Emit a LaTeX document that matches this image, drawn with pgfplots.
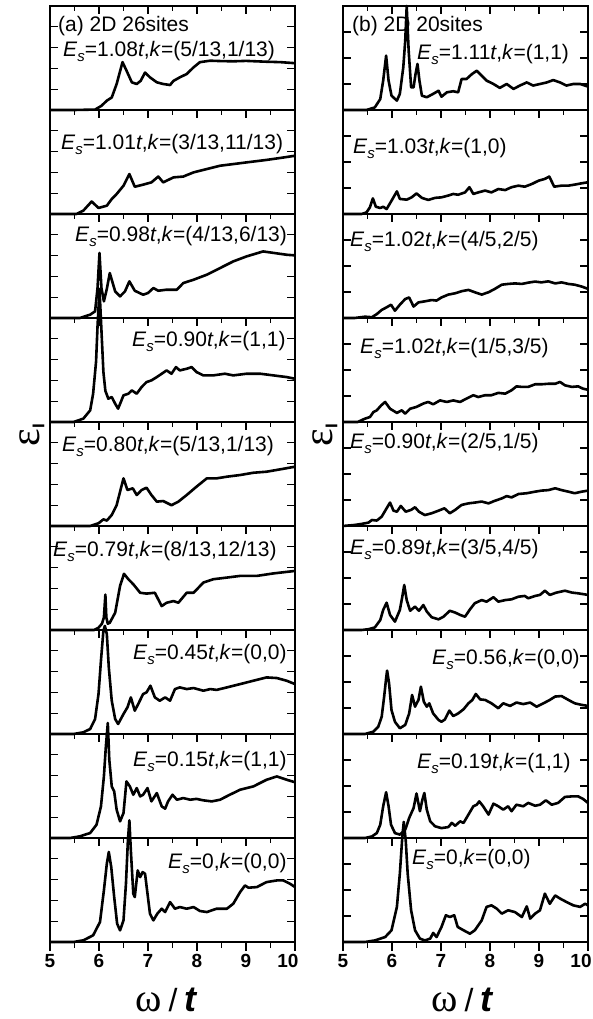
\documentclass[border=0pt]{standalone}
\usepackage{pgfplots}
\pgfplotsset{compat=1.18}
\usepackage{fontspec}
\setmainfont{Liberation Sans}
\newfontfamily\seriffont{Liberation Serif}
\newcommand\Es{\textit{E}\raisebox{-5pt}{\fontsize{15}{15}\selectfont\textit{s}}}
\pgfplotsset{
  panel/.style={scale only axis, width=245pt, height=104pt, xmin=5, xmax=10,
    xtick={5,6,...,10}, minor xtick={5.5,6.5,7.5,8.5,9.5}, xticklabels={},
    xtick pos=right, ytick pos=both, yticklabels={}, tick align=inside,
    major tick length=8pt, minor tick length=5pt,
    axis line style={line width=1.3pt}, tick style={black, line width=1.2pt},
    clip=false, anchor=south west},
  lpanel/.style={panel, ymin=0, ymax=5, ytick={0,...,5}},
  rpanel/.style={panel, ymin=0, ymax=4, ytick={0,...,4}},
  curve/.style={black, line width=2.6pt, line join=round, mark=none},
  bottomticks/.style={scale only axis, width=245pt, height=104pt, anchor=south west,
    xmin=5, xmax=10, ymin=0, ymax=1, hide y axis, axis x line*=bottom,
    x axis line style={-, line width=1.3pt}, tick style={black, line width=1.2pt},
    xtick={5,6,...,10}, minor xtick={5.5,6.5,7.5,8.5,9.5}, tick align=outside,
    major tick length=9pt, minor tick length=6pt,
    /pgf/number format/assume math mode=true,
    xticklabels={5,6,7,8,9,{\makebox[0pt]{10\hspace{14pt}}}},
    xticklabel style={font=\fontsize{19}{19}\selectfont\bfseries, yshift=0pt}},
}
\tikzset{lab/.style={anchor=base west, inner sep=0pt, font=\fontsize{21}{21}\selectfont}}
\newcommand\xlab{{\fontsize{40}{40}\selectfont\seriffont ω}\hspace{7pt}{\fontsize{32}{32}\selectfont /}\hspace{7pt}{\fontsize{36}{36}\selectfont\bfseries\itshape t}}
\newcommand\ylab{{\fontsize{42}{42}\selectfont\seriffont ε}\raisebox{-5pt}{\fontsize{17}{17}\selectfont\bfseries I}}
\begin{document}
\begin{tikzpicture}
\useasboundingbox (0,0) rectangle (592pt,1019pt);
% ---------------- left column ----------------
\begin{axis}[lpanel, at={(50pt,909pt)}]
\addplot[curve] coordinates {(5,0)(5.5,0)(5.92,0.02)(6.05,0.2)(6.16,0.45)(6.26,0.6)(6.36,1.25)(6.48,2.3)(6.56,1.9)(6.67,1.33)(6.77,1.25)(6.85,1.4)(6.94,1.8)(7.04,1.57)(7.18,1.33)(7.31,1.25)(7.45,1.2)(7.52,1.4)(7.65,1.57)(7.79,1.73)(7.93,2.05)(8.06,2.3)(8.27,2.37)(8.5,2.35)(8.74,2.34)(9.0,2.36)(9.42,2.32)(9.7,2.3)(10,2.25)};
\end{axis}
\begin{axis}[lpanel, at={(50pt,805pt)}]
\addplot[curve] coordinates {(5,0)(5.54,0)(5.68,0.16)(5.85,0.6)(5.99,0.29)(6.16,0.4)(6.26,0.72)(6.36,0.96)(6.5,1.36)(6.62,1.92)(6.73,1.31)(6.9,1.41)(7.07,1.52)(7.21,1.8)(7.31,1.52)(7.52,1.76)(7.72,1.8)(7.93,2.0)(8.2,2.16)(8.47,2.32)(8.74,2.4)(9.01,2.48)(9.42,2.6)(9.69,2.69)(10,2.8)};
\end{axis}
\begin{axis}[lpanel, at={(50pt,701pt)}]
\addplot[curve] coordinates {(5,0)(5.61,0)(5.82,0.16)(5.92,0.32)(5.97,1.44)(6.01,3.13)(6.05,1.44)(6.1,0.8)(6.16,1.4)(6.22,2.16)(6.33,1.28)(6.43,1.04)(6.53,1.28)(6.62,1.76)(6.73,1.31)(6.9,1.12)(7.0,1.2)(7.11,1.44)(7.21,1.31)(7.38,1.36)(7.59,1.36)(7.72,1.68)(7.93,1.84)(8.2,2.08)(8.47,2.4)(8.74,2.72)(9.01,2.96)(9.35,3.2)(9.56,3.13)(9.83,3.04)(10,3.01)};
\end{axis}
\begin{axis}[lpanel, at={(50pt,597pt)}]
\addplot[curve] coordinates {(5,0)(5.48,0)(5.68,0.16)(5.82,0.56)(5.88,1.36)(5.94,2.9)(5.97,4.6)(6.01,6.4)(6.05,4.4)(6.09,2.4)(6.13,1.5)(6.19,1.12)(6.26,1.2)(6.33,0.88)(6.39,0.64)(6.5,1.28)(6.6,1.36)(6.67,1.52)(6.77,1.36)(6.87,1.68)(6.97,1.92)(7.07,2.0)(7.18,2.16)(7.28,2.32)(7.38,2.48)(7.48,2.32)(7.57,2.64)(7.65,2.48)(7.79,2.56)(7.89,2.64)(7.99,2.4)(8.13,2.24)(8.33,2.24)(8.57,2.32)(8.74,2.24)(9.01,2.32)(9.29,2.32)(9.56,2.24)(9.83,2.16)(10,2.08)};
\end{axis}
\begin{axis}[lpanel, at={(50pt,493pt)}]
\addplot[curve] coordinates {(5,0)(5.82,0)(5.99,0.13)(6.09,0.32)(6.16,0.26)(6.26,0.53)(6.36,1.0)(6.43,1.65)(6.5,2.29)(6.58,1.73)(6.69,1.81)(6.77,1.49)(6.87,1.73)(6.97,1.84)(7.07,1.49)(7.18,1.17)(7.31,1.2)(7.48,1.0)(7.62,1.17)(7.79,1.49)(7.99,1.89)(8.2,2.29)(8.4,2.29)(8.61,2.37)(8.88,2.45)(9.15,2.56)(9.42,2.61)(9.69,2.72)(10,2.85)};
\end{axis}
\begin{axis}[lpanel, at={(50pt,389pt)}]
\addplot[curve] coordinates {(5,0)(5.9,0)(5.99,0.11)(6.06,0.3)(6.1,0.6)(6.13,1.7)(6.15,0.6)(6.18,0.3)(6.22,0.35)(6.33,0.83)(6.43,2.12)(6.51,2.7)(6.6,2.44)(6.7,2.2)(6.84,1.79)(6.97,1.75)(7.14,1.79)(7.28,1.15)(7.38,1.31)(7.52,1.39)(7.62,1.31)(7.79,1.79)(7.93,1.79)(8.13,2.28)(8.33,2.44)(8.61,2.52)(8.88,2.6)(9.22,2.6)(9.56,2.72)(10,2.84)};
\end{axis}
\begin{axis}[lpanel, at={(50pt,285pt)}]
\addplot[curve] coordinates {(5,0)(5.48,0)(5.68,0.08)(5.82,0.24)(5.92,0.72)(5.99,1.92)(6.04,3.53)(6.09,4.97)(6.12,5.2)(6.16,4.8)(6.2,3.2)(6.26,1.6)(6.33,0.72)(6.39,0.48)(6.5,0.96)(6.58,1.28)(6.65,1.76)(6.73,1.12)(6.8,1.44)(6.9,1.92)(6.97,2.0)(7.05,2.32)(7.14,1.76)(7.24,1.6)(7.35,1.76)(7.45,1.6)(7.55,2.16)(7.65,2.24)(7.79,2.16)(7.93,2.21)(8.13,2.08)(8.27,2.16)(8.4,2.12)(8.61,2.24)(8.88,2.4)(9.15,2.56)(9.42,2.72)(9.63,2.69)(9.83,2.56)(10,2.4)};
\end{axis}
\begin{axis}[lpanel, at={(50pt,181pt)}]
\addplot[curve] coordinates {(5,0)(5.41,0)(5.61,0.08)(5.82,0.24)(5.95,0.64)(6.04,1.52)(6.1,2.96)(6.14,4.4)(6.18,5.53)(6.21,3.77)(6.26,2.48)(6.31,2.24)(6.36,1.36)(6.43,0.8)(6.5,1.2)(6.56,2.72)(6.63,2.48)(6.7,2.08)(6.77,2.4)(6.84,2.0)(6.9,2.08)(6.99,2.4)(7.07,1.76)(7.18,2.16)(7.28,1.52)(7.35,1.41)(7.41,1.76)(7.5,2.08)(7.59,1.84)(7.72,1.92)(7.86,1.84)(7.99,1.88)(8.13,1.81)(8.3,1.76)(8.47,1.84)(8.67,2.08)(8.88,2.32)(9.15,2.48)(9.42,2.8)(9.63,2.96)(9.83,2.8)(10,2.68)};
\end{axis}
\begin{axis}[lpanel, at={(50pt,77pt)}]
\addplot[curve] coordinates {(5,0)(5.48,0)(5.68,0.08)(5.88,0.32)(6.02,0.96)(6.1,2.48)(6.16,3.77)(6.2,4.33)(6.25,3.6)(6.31,2.16)(6.37,0.88)(6.43,0.56)(6.5,1.04)(6.55,2.8)(6.59,4.89)(6.62,5.85)(6.65,4.4)(6.7,2.32)(6.73,2.16)(6.79,3.44)(6.84,3.12)(6.89,3.36)(6.94,3.28)(6.99,2.32)(7.04,1.36)(7.11,1.04)(7.19,1.36)(7.28,1.6)(7.35,1.44)(7.45,1.92)(7.55,1.6)(7.65,1.68)(7.79,1.6)(7.93,1.68)(8.06,1.49)(8.2,1.44)(8.4,1.6)(8.61,1.6)(8.74,1.84)(8.88,2.4)(8.98,2.72)(9.05,2.61)(9.22,2.64)(9.42,2.88)(9.63,2.96)(9.76,2.96)(9.9,2.8)(10,2.64)};
\end{axis}
% ---------------- right column ----------------
\begin{axis}[rpanel, at={(343pt,909pt)}]
\addplot[curve] coordinates {(5,0)(5.48,0)(5.65,0.1)(5.76,0.42)(5.82,1.13)(5.88,2.09)(5.93,1.13)(5.99,0.55)(6.1,0.36)(6.16,0.62)(6.23,1.64)(6.27,2.67)(6.3,4.0)(6.34,2.28)(6.39,0.87)(6.44,0.87)(6.48,1.38)(6.52,1.77)(6.56,1.13)(6.61,0.55)(6.71,0.49)(6.84,0.62)(6.95,0.74)(7.01,0.51)(7.12,0.68)(7.25,0.72)(7.35,0.68)(7.42,1.19)(7.52,1.19)(7.63,1.38)(7.73,1.51)(7.83,1.32)(7.93,1.13)(8.07,1.0)(8.2,0.85)(8.34,1.0)(8.48,0.81)(8.61,0.94)(8.75,1.06)(8.88,0.94)(9.02,1.0)(9.16,1.06)(9.29,1.15)(9.43,1.06)(9.56,0.94)(9.7,1.0)(9.84,1.0)(10,0.9)};
\end{axis}
\begin{axis}[rpanel, at={(343pt,805pt)}]
\addplot[curve] coordinates {(5,0)(5.38,0)(5.48,0.06)(5.55,0.26)(5.61,0.6)(5.67,0.28)(5.76,0.23)(5.82,0.28)(5.89,0.19)(5.99,0.51)(6.1,0.87)(6.16,0.58)(6.3,0.55)(6.4,0.64)(6.5,0.79)(6.61,0.62)(6.74,0.54)(6.88,0.62)(7.01,0.64)(7.15,0.71)(7.25,0.77)(7.35,0.74)(7.49,0.83)(7.58,1.03)(7.66,0.77)(7.76,0.83)(7.9,0.9)(8.03,0.83)(8.17,0.96)(8.31,0.92)(8.44,1.03)(8.58,1.09)(8.71,1.05)(8.85,1.15)(8.99,1.28)(9.12,1.35)(9.21,1.44)(9.31,1.05)(9.46,1.09)(9.6,1.09)(9.73,1.13)(9.87,1.18)(10,1.22)};
\end{axis}
\begin{axis}[rpanel, at={(343pt,701pt)}]
\addplot[curve] coordinates {(5,0)(5.24,0)(5.45,0.05)(5.59,0.03)(5.69,0.15)(5.79,0.31)(5.89,0.41)(5.98,0.51)(6.06,0.28)(6.16,0.51)(6.27,0.73)(6.35,0.79)(6.44,0.44)(6.54,0.6)(6.67,0.64)(6.81,0.69)(6.91,0.67)(7.01,0.79)(7.15,0.9)(7.29,0.95)(7.42,1.03)(7.56,1.08)(7.69,0.99)(7.83,0.9)(7.97,0.99)(8.1,1.12)(8.24,1.28)(8.37,1.31)(8.51,1.33)(8.65,1.31)(8.78,1.36)(8.92,1.4)(9.05,1.37)(9.19,1.41)(9.33,1.33)(9.46,1.37)(9.6,1.31)(9.73,1.28)(9.87,1.21)(10,1.12)};
\end{axis}
\begin{axis}[rpanel, at={(343pt,597pt)}]
\addplot[curve] coordinates {(5,0)(5.3,0)(5.45,0.13)(5.55,0.19)(5.62,0.38)(5.69,0.45)(5.78,0.64)(5.86,0.77)(5.96,0.51)(6.1,0.35)(6.2,0.45)(6.27,0.32)(6.37,0.51)(6.5,0.58)(6.64,0.71)(6.74,0.77)(6.84,0.68)(6.98,0.83)(7.12,0.77)(7.25,0.83)(7.39,0.77)(7.52,0.9)(7.66,1.03)(7.76,0.96)(7.9,1.03)(8.03,1.03)(8.17,1.12)(8.31,1.09)(8.44,1.22)(8.54,1.37)(8.65,1.35)(8.78,1.35)(8.92,1.45)(9.05,1.45)(9.19,1.47)(9.33,1.47)(9.43,1.54)(9.53,1.41)(9.67,1.35)(9.8,1.37)(9.9,1.28)(10,1.24)};
\end{axis}
\begin{axis}[rpanel, at={(343pt,493pt)}]
\addplot[curve] coordinates {(5,0)(5.24,0.04)(5.38,0.08)(5.52,0.13)(5.59,0.23)(5.69,0.21)(5.79,0.36)(5.89,0.68)(5.96,0.9)(6.03,0.59)(6.1,0.55)(6.18,0.77)(6.28,0.55)(6.39,0.62)(6.47,0.72)(6.55,0.55)(6.67,0.42)(6.81,0.49)(6.95,0.59)(7.07,0.68)(7.18,0.49)(7.29,0.62)(7.42,0.81)(7.56,0.87)(7.69,0.9)(7.83,0.94)(7.97,0.87)(8.1,0.97)(8.24,1.06)(8.34,1.15)(8.44,1.1)(8.58,1.23)(8.75,1.26)(8.92,1.32)(9.05,1.36)(9.19,1.38)(9.33,1.45)(9.46,1.38)(9.6,1.32)(9.73,1.26)(9.87,1.32)(10,1.36)};
\end{axis}
\begin{axis}[rpanel, at={(343pt,389pt)}]
\addplot[curve] coordinates {(5,0)(5.38,0)(5.52,0.03)(5.65,0.1)(5.76,0.38)(5.82,0.77)(5.89,1.05)(5.96,0.58)(6.06,0.32)(6.16,0.77)(6.21,1.28)(6.25,1.73)(6.3,1.15)(6.37,0.74)(6.47,0.9)(6.55,0.74)(6.64,0.96)(6.71,0.71)(6.81,0.49)(6.95,0.41)(7.05,0.51)(7.18,0.74)(7.29,0.67)(7.39,0.58)(7.49,0.51)(7.59,0.79)(7.69,1.03)(7.83,1.15)(7.93,1.09)(8.07,1.26)(8.17,1.09)(8.31,1.15)(8.44,1.18)(8.58,1.28)(8.71,1.31)(8.78,1.22)(8.92,1.31)(9.02,1.35)(9.12,1.51)(9.22,1.35)(9.36,1.44)(9.53,1.51)(9.67,1.44)(9.8,1.41)(10,1.35)};
\end{axis}
\begin{axis}[rpanel, at={(343pt,285pt)}]
\addplot[curve] coordinates {(5,0)(5.45,0)(5.62,0.09)(5.72,0.28)(5.79,0.67)(5.84,1.44)(5.88,2.14)(5.9,2.44)(5.94,1.95)(5.99,0.92)(6.06,0.47)(6.16,0.22)(6.27,0.35)(6.35,0.79)(6.41,1.5)(6.47,1.05)(6.54,1.31)(6.59,1.82)(6.65,1.24)(6.71,1.05)(6.76,1.18)(6.84,0.79)(6.95,0.54)(7.01,0.47)(7.08,0.56)(7.17,0.9)(7.25,0.69)(7.35,0.79)(7.46,0.95)(7.56,1.18)(7.64,1.31)(7.71,1.54)(7.8,1.33)(7.9,1.31)(8.03,1.18)(8.17,0.99)(8.27,1.18)(8.41,1.08)(8.54,1.21)(8.68,1.15)(8.82,1.21)(8.95,1.05)(9.09,1.18)(9.22,1.31)(9.33,1.44)(9.46,1.46)(9.6,1.31)(9.73,1.18)(9.87,1.12)(10,1.08)};
\end{axis}
\begin{axis}[rpanel, at={(343pt,181pt)}]
\addplot[curve] coordinates {(5,0)(5.45,0)(5.59,0.06)(5.69,0.19)(5.76,0.51)(5.82,1.22)(5.88,1.76)(5.93,1.22)(5.98,0.51)(6.06,0.19)(6.16,0.13)(6.27,0.32)(6.35,0.77)(6.44,1.15)(6.5,1.71)(6.57,1.03)(6.62,1.47)(6.66,1.73)(6.71,1.09)(6.78,0.64)(6.88,0.45)(7.01,0.38)(7.15,0.42)(7.22,0.58)(7.29,0.47)(7.39,0.64)(7.46,0.58)(7.56,0.9)(7.66,1.22)(7.73,1.28)(7.78,1.41)(7.86,1.22)(7.97,0.9)(8.07,1.32)(8.17,1.22)(8.27,1.09)(8.37,1.22)(8.44,1.03)(8.54,1.28)(8.68,1.22)(8.78,1.35)(8.92,1.24)(9.02,1.28)(9.14,1.45)(9.26,1.28)(9.39,1.35)(9.53,1.58)(9.67,1.6)(9.8,1.6)(9.9,1.5)(10,1.35)};
\end{axis}
\begin{axis}[rpanel, at={(343pt,77pt)}]
\addplot[curve] coordinates {(5,0)(5.45,0)(5.65,0.06)(5.86,0.19)(5.99,0.45)(6.1,1.35)(6.16,2.63)(6.21,4.04)(6.24,4.62)(6.28,3.91)(6.32,2.63)(6.39,1.22)(6.47,0.45)(6.57,0.13)(6.67,0.06)(6.78,0.13)(6.84,0.35)(6.91,0.19)(7.01,0.58)(7.1,1.03)(7.18,0.96)(7.27,1.03)(7.34,0.58)(7.46,0.45)(7.59,0.32)(7.69,0.45)(7.83,0.83)(7.93,1.35)(8.03,1.41)(8.14,1.28)(8.24,1.09)(8.37,1.22)(8.51,1.15)(8.65,0.96)(8.75,1.37)(8.82,0.9)(8.92,1.09)(9.02,1.22)(9.12,1.86)(9.22,1.47)(9.33,1.79)(9.43,1.67)(9.56,1.54)(9.7,1.41)(9.84,1.35)(9.94,1.47)(10,1.41)};
\end{axis}
% ---------------- bottom tick axes ----------------
\begin{axis}[bottomticks, at={(50pt,77pt)}]
\end{axis}
\begin{axis}[bottomticks, at={(343pt,77pt)}]
\end{axis}
% ---------------- labels ----------------
\node[lab] at (58pt,987pt) {(a) 2D 26sites};
\node[lab] at (63pt,962pt) {\Es=1.08\textit{t},\textit{k}=(5/13,1/13)};
\node[lab] at (61pt,869pt) {\Es=1.01\textit{t},\textit{k}=(3/13,11/13)};
\node[lab] at (75pt,777pt) {\Es=0.98\textit{t},\textit{k}=(4/13,6/13)};
\node[lab] at (132pt,672pt) {\Es=0.90\textit{t},\textit{k}=(1,1)};
\node[lab] at (62pt,567pt) {\Es=0.80\textit{t},\textit{k}=(5/13,1/13)};
\node[lab] at (53pt,462pt) {\Es=0.79\textit{t},\textit{k}=(8/13,12/13)};
\node[lab] at (133pt,359pt) {\Es=0.45\textit{t},\textit{k}=(0,0)};
\node[lab] at (133pt,252pt) {\Es=0.15\textit{t},\textit{k}=(1,1)};
\node[lab] at (168pt,150pt) {\Es=0,\textit{k}=(0,0)};
\node[lab] at (352pt,987pt) {(b) 2D 20sites};
\node[lab] at (417pt,959pt) {\Es=1.11\textit{t},\textit{k}=(1,1)};
\node[lab] at (353pt,865pt) {\Es=1.03\textit{t},\textit{k}=(1,0)};
\node[lab] at (350pt,772pt) {\Es=1.02\textit{t},\textit{k}=(4/5,2/5)};
\node[lab] at (360pt,665pt) {\Es=1.02\textit{t},\textit{k}=(1/5,3/5)};
\node[lab] at (350pt,570pt) {\Es=0.90\textit{t},\textit{k}=(2/5,1/5)};
\node[lab] at (350pt,464pt) {\Es=0.89\textit{t},\textit{k}=(3/5,4/5)};
\node[lab] at (432pt,354pt) {\Es=0.56,\textit{k}=(0,0)};
\node[lab] at (417pt,250pt) {\Es=0.19\textit{t},\textit{k}=(1,1)};
\node[lab] at (412pt,154pt) {\Es=0,\textit{k}=(0,0)};
% axis titles
\node[anchor=base, inner sep=0pt] at (166pt,8pt) {\xlab};
\node[anchor=base, inner sep=0pt] at (462pt,8pt) {\xlab};
\node[rotate=90, inner sep=0pt] at (32pt,584pt) {\ylab};
\node[rotate=90, inner sep=0pt] at (325pt,584pt) {\ylab};
\end{tikzpicture}
\end{document}
